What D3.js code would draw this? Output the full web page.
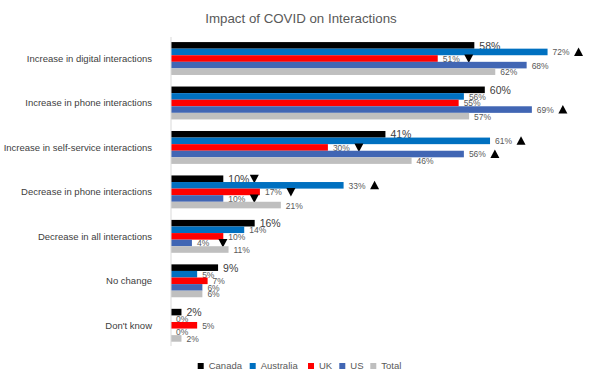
<!DOCTYPE html>
<html><head><meta charset="utf-8">
<script src="https://cdn.jsdelivr.net/npm/d3@7"></script>
<style>body{margin:0;background:#fff}svg{display:block}text{font-family:"Liberation Sans",Arial,sans-serif}</style>
</head><body><svg id="c" width="600" height="382"></svg>
<script>
const categories = ["Increase in digital interactions","Increase in phone interactions","Increase in self-service interactions","Decrease in phone interactions","Decrease in all interactions","No change","Don't know"];
const seriesNames = ["Canada","Australia","UK","US","Total"];
const seriesColors = ["#000000","#0070C0","#FF0000","#4166B4","#BFBFBF"];
const canada    = [58,60,41,10,16,9,2];
const australia = [72,56,61,33,14,5,0];
const uk        = [51,55,30,17,10,7,5];
const us        = [68,69,56,10,4,6,0];
const total     = [62,57,46,21,11,6,2];
// significance markers: "up", "down" or ""
const canadaSig    = ["","","","down","","",""];
const australiaSig = ["up","","up","up","","",""];
const ukSig        = ["down","","down","down","","",""];
const usSig        = ["","up","up","down","down","",""];
const totalSig     = ["","","","","","",""];
const title = "Impact of COVID on Interactions";

const values = [canada, australia, uk, us, total];
const sigs = [canadaSig, australiaSig, ukSig, usSig, totalSig];

const svg = d3.select("#c");
const x = d3.scaleLinear().domain([0, 80]).range([171, 171 + 80 * 5.23]);
const y = d3.scaleBand().domain(categories).range([36.3, 347.5]).paddingInner(0.26).paddingOuter(0.13);
const ys = d3.scaleBand().domain(seriesNames).range([0, y.bandwidth()]);

svg.append("text").attr("x", 301).attr("y", 23).attr("text-anchor", "middle")
  .attr("font-size", 13.3).attr("fill", "#595959").text(title);

// category labels
svg.selectAll("text.cat").data(categories).join("text").attr("class", "cat")
  .attr("x", 152).attr("y", d => y(d) + y.bandwidth() / 2).attr("dy", "0.35em")
  .attr("text-anchor", "end").attr("font-size", 9.5).attr("fill", "#404040").text(d => d);

const g = svg.append("g");
seriesNames.forEach((s, si) => {
  const recs = categories.map((c, i) => ({c, v: values[si][i], sig: sigs[si][i]}));
  g.selectAll("rect.s" + si).data(recs).join("rect")
    .attr("x", x(0)).attr("y", d => y(d.c) + ys(s))
    .attr("width", d => x(d.v) - x(0)).attr("height", ys.bandwidth())
    .attr("fill", seriesColors[si]);
  g.selectAll("text.s" + si).data(recs).join("text")
    .attr("x", d => x(d.v) + 5).attr("y", d => y(d.c) + ys(s) + ys.bandwidth() / 2 + 0.5)
    .attr("dy", "0.35em")
    .attr("font-size", si === 0 ? 10.5 : 8.5)
    .attr("fill", si === 0 ? "#404040" : "#595959")
    .text(d => d.v + "%");
  g.selectAll("path.s" + si).data(recs.filter(d => d.sig)).join("path")
    .attr("transform", d => `translate(${x(d.v) + 31},${y(d.c) + ys(s) + ys.bandwidth() / 2})`)
    .attr("d", d => d.sig === "up" ? "M-4.5,4L4.5,4L0,-4.5Z" : "M-4.5,-4L4.5,-4L0,4.5Z")
    .attr("fill", "#000");
});

// axis line
svg.append("line").attr("x1", x(0)).attr("x2", x(0)).attr("y1", 37).attr("y2", 346)
  .attr("stroke", "#D9D9D9").attr("stroke-width", 1);

// legend
const legX = [200.7, 252.7, 311, 342.3, 373.3];
const leg = svg.selectAll("g.leg").data(seriesNames).join("g").attr("class", "leg")
  .attr("transform", (d, i) => `translate(${legX[i]},366)`);
leg.append("rect").attr("x", -3).attr("y", -3).attr("width", 6).attr("height", 6)
  .attr("fill", (d, i) => seriesColors[i]);
leg.append("text").attr("x", 8).attr("y", 0).attr("dy", "0.35em").attr("font-size", 9.5)
  .attr("fill", "#595959").text(d => d);
</script></body></html>
